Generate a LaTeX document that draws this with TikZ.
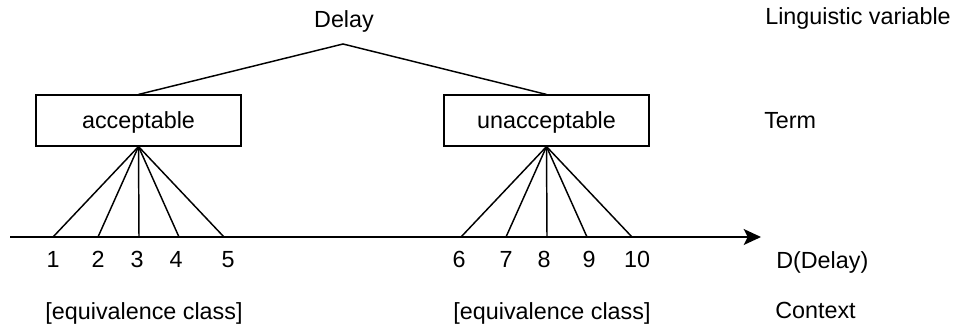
\documentclass[tikz,border=0pt]{standalone}
\usepackage{fontspec}
\setmainfont{Liberation Sans}
\usetikzlibrary{arrows.meta}
\begin{document}
\begin{tikzpicture}[x=0.75pt,y=-0.75pt,
  every node/.style={font=\fontsize{17.5}{21}\selectfont},
  lbl/.style={inner sep=0pt,anchor=base},
  side/.style={inner sep=0pt,anchor=base west},
  termbox/.style={draw,line width=1.1pt,minimum width=153.5pt,minimum height=38pt,inner sep=0pt},
  link/.style={line width=1.1pt},
  axis/.style={line width=1.1pt,-{Stealth[length=13pt,width=12pt,inset=3pt]}}]
\useasboundingbox (0,0) rectangle (955,329);

% linguistic variable and its terms
\node[lbl] (delay) at (344,27) {Delay};
\coordinate (apex) at (343,44);
\node[termbox] (acc) at (138.5,120.5) {};
\node[lbl] (acctext) at (138.5,128) {acceptable};
\node[termbox] (unacc) at (546.5,120.5) {};
\node[lbl] (unacctext) at (546.5,128) {unacceptable};
\draw[link] (acc.north) -- (apex) -- (unacc.north);

% domain axis
\coordinate (axstart) at (10,237);
\coordinate (axend) at (761,237);
\draw[axis] (axstart) -- (axend);

% points of the domain and their labels
\foreach \i/\tx/\lx in {1/53/53,2/98/98,3/139/137,4/179/176,5/224/228}{
  \coordinate (t\i) at (\tx,237);
  \node[lbl] (n\i) at (\lx,267) {\i};
  \draw[link] (acc.south) -- (t\i);
}
\foreach \i/\tx/\lx in {6/461/459,7/506/506,8/547/544,9/587/589,10/632/637}{
  \coordinate (t\i) at (\tx,237);
  \node[lbl] (n\i) at (\lx,267) {\i};
  \draw[link] (unacc.south) -- (t\i);
}

% equivalence classes
\node[lbl] (eq1) at (144,319) {[equivalence class]};
\node[lbl] (eq2) at (552,319) {[equivalence class]};

% level captions
\node[side] (cap1) at (765,24) {Linguistic variable};
\node[side] (cap2) at (764,128) {Term};
\node[side] (cap3) at (776,268) {D(Delay)};
\node[side] (cap4) at (775,318) {Context};
\end{tikzpicture}
\end{document}
